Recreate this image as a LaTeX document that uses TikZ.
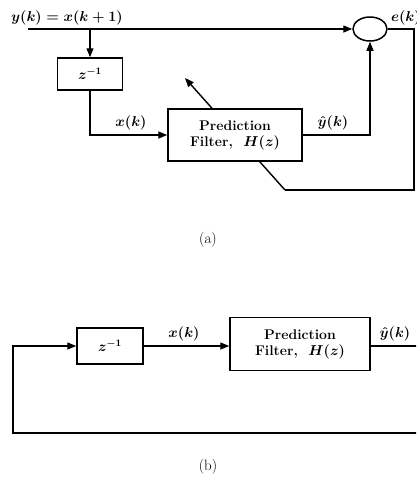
\documentclass[tikz,border=0pt]{standalone}
\usetikzlibrary{arrows.meta,shapes.geometric}

\tikzset{
  block/.style={draw, line width=1.5pt, fill=white, inner sep=2pt, align=center,
    font=\fontsize{14}{16}\selectfont\bfseries\boldmath},
  sumnode/.style={draw, ellipse, line width=1.5pt, minimum width=34pt, minimum height=24pt, inner sep=0pt},
  sig/.style={inner sep=1pt, font=\fontsize{14}{16}\selectfont\boldmath},
  wire/.style={line width=1.4pt},
  flow/.style={line width=1.4pt, -{Triangle[length=9pt,width=7pt]}},
  caption/.style={font=\fontsize{15}{17}\selectfont}
}

\begin{document}
\begin{tikzpicture}[x=1pt,y=-1pt]
\clip (0,0) rectangle (416,488);

% (a) adaptive prediction
\draw[flow] (285,190) -- (185,78);
\node[block, minimum width=134pt, minimum height=52pt] (filta) at (235,135) {Prediction\\Filter,~ $H(z)$};
\node[block, minimum width=65pt, minimum height=32pt] (za) at (90,74) {$z^{-1}$};
\node[sumnode] (sum) at (370,29) {};
\coordinate (yin) at (28,29);
\coordinate (brancha) at (90,29);
\coordinate (corna) at (414,29);
\coordinate (cornb) at (414,190);
\coordinate (cornc) at (285,190);

\draw[flow] (yin) -- (sum.west);
\draw[flow] (brancha) -- (za.north);
\draw[flow] (za.south) |- (filta.west);
\draw[flow] (filta.east) -| (sum.south);
\draw[wire] (sum.east) -- (corna) -- (cornb) -- (cornc);

\node[sig, anchor=south west] (ylab) at (10,26) {$y(k) = x(k+1)$};
\node[sig, anchor=south west] (elab) at (390,26) {$e(k)$};
\node[sig, anchor=south] (xlaba) at (131,131) {$x(k)$};
\node[sig, anchor=south] (yhata) at (333,131) {$\hat{y}(k)$};
\node[caption] (capa) at (208,240) {(a)};

% (b) closed loop
\node[block, minimum width=66pt, minimum height=36pt] (zb) at (110,346) {$z^{-1}$};
\node[block, minimum width=140pt, minimum height=53pt] (filtb) at (300,344) {Prediction\\Filter,~ $H(z)$};
\coordinate (outb) at (430,346);
\coordinate (loopa) at (430,433);
\coordinate (loopb) at (13,433);
\coordinate (loopc) at (13,346);

\draw[flow] (zb.east) -- (filtb.west |- zb.east);
\draw[wire] (filtb.east |- zb.east) -- (outb);
\draw[flow] (loopa) -- (loopb) -- (loopc) -- (zb.west);

\node[sig, anchor=south] (xlabb) at (184,342) {$x(k)$};
\node[sig, anchor=south] (yhatb) at (395,342) {$\hat{y}(k)$};
\node[caption] (capb) at (208,467) {(b)};
\end{tikzpicture}
\end{document}
